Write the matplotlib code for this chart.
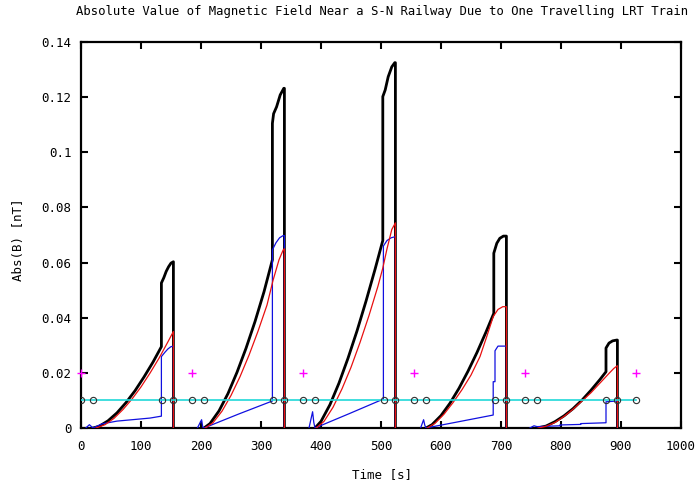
import numpy as np
import matplotlib
matplotlib.use('Agg')
import matplotlib.pyplot as plt

nan = np.nan

# ---- data (time [s], |B| [nT]) ----
black_t = [20, 30, 45, 60, 75, 90, 105, 120, 134, 134, 138, 142, 146, 150, 154, 154, nan,
           205, 215, 230, 245, 260, 275, 290, 305, 319, 319, 321, 326, 332, 338, 339, 339, nan,
           390, 400, 415, 430, 445, 460, 475, 490, 503, 503, 507, 512, 518, 523, 524, 524, nan,
           575, 585, 600, 615, 630, 645, 660, 675, 688, 688, 693, 698, 704, 709, 709, nan,
           760, 775, 790, 805, 820, 835, 850, 865, 875, 875, 880, 886, 893, 894, 894]
black_v = [0, 0.0006, 0.0026, 0.0055, 0.0092, 0.0135, 0.0185, 0.0239, 0.0295, 0.0526, 0.0545, 0.0568, 0.0585, 0.0598, 0.0603, 0, nan,
           0, 0.0016, 0.0062, 0.0125, 0.0202, 0.0289, 0.0386, 0.0494, 0.061, 0.1105, 0.114, 0.1165, 0.1208, 0.1232, 0.1232, 0, nan,
           0, 0.0024, 0.0085, 0.0163, 0.0253, 0.0352, 0.046, 0.0575, 0.068, 0.1202, 0.1226, 0.1274, 0.131, 0.1325, 0.1325, 0, nan,
           0, 0.0012, 0.0045, 0.009, 0.0144, 0.0206, 0.0274, 0.0348, 0.0416, 0.0634, 0.067, 0.0688, 0.0696, 0.0696, 0, nan,
           0, 0.0007, 0.0023, 0.0044, 0.007, 0.0101, 0.0137, 0.0176, 0.0204, 0.029, 0.0308, 0.0316, 0.0319, 0.0319, 0]

red_t = [25, 40, 55, 70, 85, 100, 115, 130, 145, 154, 154, nan,
         207, 220, 235, 250, 265, 280, 295, 310, 320, 330, 337, 339, 339, nan,
         392, 405, 420, 435, 450, 465, 480, 495, 503, 510, 518, 524, 524, nan,
         577, 590, 605, 620, 635, 650, 665, 676, 687, 695, 703, 709, 709, nan,
         762, 775, 790, 805, 820, 835, 850, 865, 880, 888, 894, 894]
red_v = [0, 0.0012, 0.0035, 0.0067, 0.0105, 0.0149, 0.0199, 0.0253, 0.0313, 0.035, 0, nan,
         0, 0.0019, 0.0061, 0.0118, 0.0186, 0.0264, 0.0351, 0.0446, 0.0535, 0.061, 0.0646, 0.065, 0, nan,
         0, 0.0024, 0.0075, 0.0142, 0.022, 0.031, 0.0408, 0.0515, 0.058, 0.065, 0.072, 0.0744, 0, nan,
         0, 0.0017, 0.005, 0.0092, 0.0139, 0.0192, 0.0259, 0.033, 0.0404, 0.043, 0.044, 0.044, 0, nan,
         0, 0.0006, 0.002, 0.0042, 0.0068, 0.0098, 0.0128, 0.0163, 0.0198, 0.0216, 0.0226, 0]

blue_t = [8, 14, 20, 35, 60, 90, 115, 134, 134, 140, 145, 150, 154, 154, nan,
          194, 201, 203, 205, 262, 319, 319, 325, 331, 337, 339, 339, nan,
          380, 386, 388, 390, 447, 504, 504, 510, 517, 524, 524, nan,
          566, 571, 573, 575, 630, 687, 687, 690, 690, 695, 709, 709, nan,
          748, 755, 760, 798, 798, 833, 833, 875, 875, 894, 894]
blue_v = [0, 0.0012, 0, 0.0015, 0.0025, 0.0031, 0.0036, 0.0043, 0.0259, 0.0275, 0.0287, 0.0295, 0.0297, 0, nan,
          0, 0.003, 0.0003, 0, 0.005, 0.0098, 0.0646, 0.0672, 0.069, 0.0698, 0.0698, 0, nan,
          0, 0.0059, 0.002, 0, 0.0052, 0.0105, 0.066, 0.068, 0.069, 0.0694, 0, nan,
          0, 0.003, 0.001, 0, 0.0023, 0.0047, 0.0168, 0.0168, 0.028, 0.0297, 0.0297, 0, nan,
          0, 0.0008, 0.0005, 0.0008, 0.0011, 0.0013, 0.0016, 0.0019, 0.0095, 0.0098, 0]

# station / event markers
event_t = [0, 20, 135, 154, 185, 205, 320, 339, 370, 390, 505, 524,
           555, 575, 690, 709, 740, 760, 875, 894, 925]
event_level = 0.01
plus_t = [0, 185, 370, 555, 740, 925]
plus_level = 0.02

xticks = [0, 100, 200, 300, 400, 500, 600, 700, 800, 900, 1000]
yticks = [0, 0.02, 0.04, 0.06, 0.08, 0.1, 0.12, 0.14]
yticklabels = ['0', '0.02', '0.04', '0.06', '0.08', '0.1', '0.12', '0.14']

plt.rcParams['font.family'] = ['DejaVu Sans Mono']

fig = plt.figure(figsize=(6.97, 4.84), dpi=100)
W, H = 697, 484
ax = fig.add_axes([81 / W, 1 - 428 / H, 600 / W, 386 / H])

ax.plot(black_t, black_v, color='black', lw=2.0, zorder=2)
ax.plot(blue_t, blue_v, color='#1010e0', lw=0.9, zorder=3)
ax.plot(red_t, red_v, color='#e81010', lw=0.9, zorder=4)
ax.plot(event_t, [event_level] * len(event_t), color='#20d8d8', lw=1.2, zorder=5)
ax.plot(event_t, [event_level] * len(event_t), ls='none', marker='o', ms=4.5,
        mfc='none', mec='#303030', mew=0.8, zorder=6)
ax.plot(plus_t, [plus_level] * len(plus_t), ls='none', marker='+', ms=6,
        color='#ff00ff', mew=1.0, zorder=6, clip_on=False)

ax.set_xlim(0, 1000)
ax.set_ylim(0, 0.14)
ax.set_xticks(xticks)
ax.set_xticklabels([str(x) for x in xticks])
ax.set_yticks(yticks)
ax.set_yticklabels(yticklabels)
ax.tick_params(direction='in', length=5, width=1.5, top=True, right=True,
               labelsize=9, pad=7)
ax.tick_params(axis='x', pad=9)
for s in ax.spines.values():
    s.set_linewidth(1.6)

fig.text(382 / W, 1 - 12 / H, 'Absolute Value of Magnetic Field Near a S-N Railway Due to One Travelling LRT Train',
         ha='center', va='center', fontsize=8.8)
fig.text(382 / W, 1 - 475 / H, 'Time [s]', ha='center', va='center', fontsize=9)
fig.text(19 / W, 1 - 240 / H, 'Abs(B) [nT]', ha='center', va='center', fontsize=9, rotation=90)

fig.savefig('out.png', dpi=100)
